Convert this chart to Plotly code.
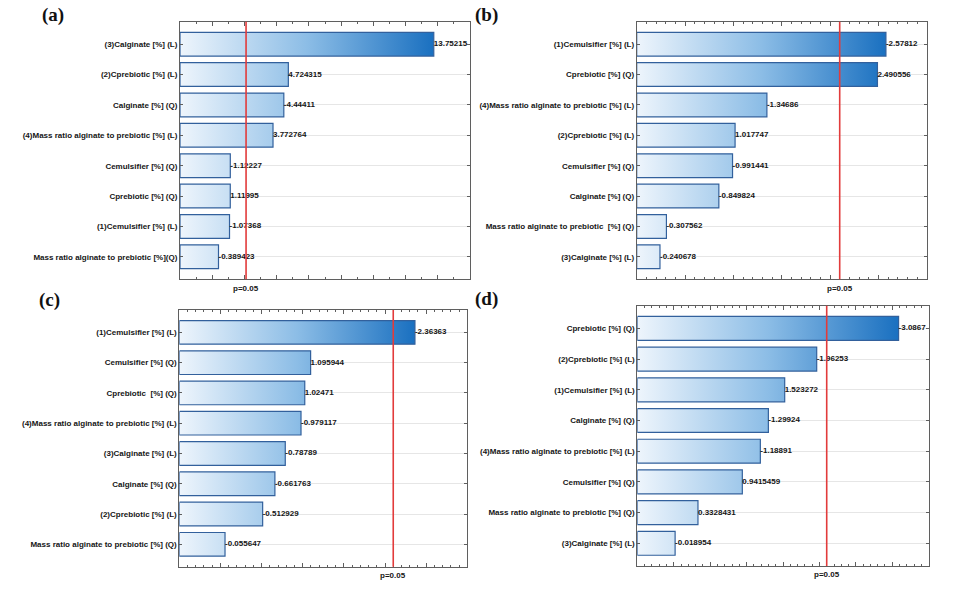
import plotly.graph_objects as go

# ---------------- data ----------------
labels_a = ["(3)Calginate [%] (L)", "(2)Cprebiotic [%] (L)", "Calginate [%] (Q)",
            "(4)Mass ratio alginate to prebiotic [%] (L)", "Cemulsifier [%] (Q)",
            "Cprebiotic [%] (Q)", "(1)Cemulsifier [%] (L)",
            "Mass ratio alginate to prebiotic [%](Q)"]
values_a = [13.75215, 4.724315, -4.44411, 3.772764, -1.12227, 1.11995, -1.07368, -0.389423]

labels_b = ["(1)Cemulsifier [%] (L)", "Cprebiotic [%] (Q)",
            "(4)Mass ratio alginate to prebiotic [%] (L)", "(2)Cprebiotic [%] (L)",
            "Cemulsifier [%] (Q)", "Calginate [%] (Q)",
            "Mass ratio alginate to prebiotic  [%] (Q)", "(3)Calginate [%] (L)"]
values_b = [-2.57812, 2.490556, -1.34686, 1.017747, -0.991441, -0.849824, -0.307562, -0.240678]

labels_c = ["(1)Cemulsifier [%] (L)", "Cemulsifier [%] (Q)", "Cprebiotic  [%] (Q)",
            "(4)Mass ratio alginate to prebiotic [%] (L)", "(3)Calginate [%] (L)",
            "Calginate [%] (Q)", "(2)Cprebiotic [%] (L)",
            "Mass ratio alginate to prebiotic [%] (Q)"]
values_c = [-2.36363, 1.095944, 1.02471, -0.979117, -0.78789, -0.661763, -0.512929, -0.055647]

labels_d = ["Cprebiotic [%] (Q)", "(2)Cprebiotic [%] (L)", "(1)Cemulsifier [%] (L)",
            "Calginate [%] (Q)", "(4)Mass ratio alginate to prebiotic [%] (L)",
            "Cemulsifier [%] (Q)", "Mass ratio alginate to prebiotic [%] (Q)",
            "(3)Calginate [%] (L)"]
values_d = [-3.0867, -1.96253, 1.523272, -1.29924, -1.18891, 0.9415459, 0.3328431, -0.018954]

panel_names = ["(a)", "(b)", "(c)", "(d)"]
t_crit = 2.1            # p = 0.05 threshold
p_label = "p=0.05"

x_ranges = [(-2, 16), (0, 3), (-0.5, 3), (-0.5, 3.5)]
x_dticks = [(2, 1), (0.5, 0.1), (0.5, 0.1), (0.5, 0.1)]

# ---------------- layout geometry (pixels) ----------------
W, H = 955, 592
boxes = [(180, 470, 21.7, 279.3), (636.7, 926.7, 21.7, 279.3),
         (179.3, 467.3, 310, 566.7), (637.3, 928.7, 305.7, 566)]
name_pos = [(40, 15), (473, 15), (37, 300), (473, 299)]

FONT = "Liberation Sans, Arial, sans-serif"
TXT = "#151515"
FRAME = "#5f5f5f"
BORDER = "#32609c"
SCALE = [[0, "#eef5fc"], [0.5, "#8cbde6"], [1, "#1a70c0"]]
half = 0.39

fig = go.Figure()
panels = [(labels_a, values_a), (labels_b, values_b), (labels_c, values_c), (labels_d, values_d)]

for k, (labs, vals) in enumerate(panels):
    sfx = "" if k == 0 else str(k + 1)
    xa, ya = "x" + sfx, "y" + sfx
    base = x_ranges[k][0]
    n = len(vals)
    mags = [abs(v) for v in vals]
    xs, ys = [], []
    for j, m in enumerate(mags):
        xs += [base, m, m, base, base, None]
        ys += [j - half, j - half, j + half, j + half, j - half, None]
    fig.add_trace(go.Scatter(
        x=xs, y=ys, mode="lines", fill="toself",
        fillgradient=dict(type="horizontal", colorscale=SCALE, start=base, stop=max(mags)),
        line=dict(color=BORDER, width=1.2), hoverinfo="skip", showlegend=False,
        xaxis=xa, yaxis=ya))
    fig.add_trace(go.Scatter(
        x=mags, y=list(range(n)), mode="text", text=[str(v) for v in vals],
        textposition="middle right", cliponaxis=False,
        textfont=dict(family=FONT, size=8, color=TXT, weight="bold"),
        hoverinfo="skip", showlegend=False, xaxis=xa, yaxis=ya))

    x0, x1, y0, y1 = boxes[k]
    xdom = [x0 / W, x1 / W]
    ydom = [1 - y1 / H, 1 - y0 / H]
    fig.update_layout(**{
        ("xaxis" + sfx): dict(
            domain=xdom, range=list(x_ranges[k]), showticklabels=False,
            ticks="inside", ticklen=4, tickcolor=FRAME, tick0=base, dtick=x_dticks[k][0],
            minor=dict(ticks="inside", ticklen=2, dtick=x_dticks[k][1], tickcolor=FRAME),
            showgrid=False, zeroline=False, showline=True, linecolor=FRAME,
            linewidth=1, mirror="ticks", anchor=ya, fixedrange=True),
        ("yaxis" + sfx): dict(
            domain=ydom, range=[n - 1 + 0.74, -0.74], tickvals=list(range(n)),
            ticktext=labs, tickfont=dict(family=FONT, size=8, color=TXT, weight="bold"),
            ticks="inside", ticklen=3, tickcolor=FRAME, showgrid=True, gridcolor="#e6e6e6",
            gridwidth=1, zeroline=False, showline=True, linecolor=FRAME, linewidth=1,
            mirror="ticks", anchor=xa, fixedrange=True),
    })
    fig.add_shape(type="line", xref=xa, yref=ya + " domain", x0=t_crit, x1=t_crit,
                  y0=0, y1=1, line=dict(color="#e23b3b", width=1.6))
    fig.add_annotation(x=t_crit, xref=xa, y=1 - (y1 + 8.7) / H, yref="paper",
                       text=p_label, showarrow=False, yanchor="middle", xanchor="center",
                       font=dict(family=FONT, size=8, color=TXT, weight="bold"))
    nx, ny = name_pos[k]
    fig.add_annotation(x=nx / W, xref="paper", y=1 - ny / H, yref="paper",
                       text=panel_names[k], showarrow=False, xanchor="left", yanchor="middle",
                       font=dict(family="Liberation Serif, Times New Roman, serif", size=19,
                                 color="#111111", weight="bold"))

fig.update_layout(width=W, height=H, margin=dict(l=0, r=0, t=0, b=0),
                  paper_bgcolor="white", plot_bgcolor="white", showlegend=False)

fig.write_html("out.html", config={"displayModeBar": False},
               post_script="document.body.style.margin='0px';")
